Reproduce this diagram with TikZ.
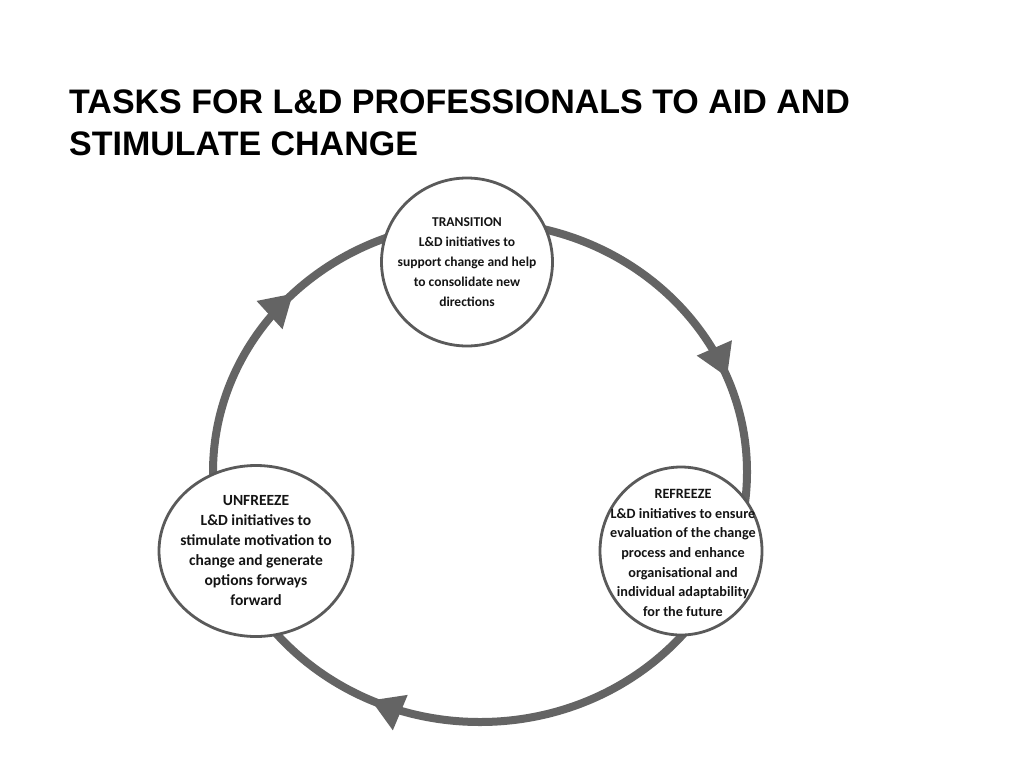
\documentclass[tikz,border=0pt]{standalone}
\usepackage{fontspec}
\setmainfont{Liberation Sans}
\newfontfamily\nodefont{Carlito}
\usetikzlibrary{shapes.geometric,arrows.meta,decorations.markings}
\definecolor{ringgray}{HTML}{646464}
\definecolor{edgegray}{HTML}{5A5A5A}
\definecolor{txtgray}{HTML}{141414}
\tikzset{
  ring/.style={draw=ringgray, line width=8pt,
    decoration={markings,
      mark=at position 0.19 with {\arrow[ringgray]{Triangle[length=32pt,width=36pt]}},
      mark=at position 0.569 with {\arrow[ringgray]{Triangle[length=32pt,width=36pt]}},
      mark=at position 0.874 with {\arrow[ringgray]{Triangle[length=32pt,width=36pt]}}},
    postaction={decorate}},
  stage/.style={ellipse, draw=edgegray, line width=2.8pt, fill=white, inner sep=0pt},
  stagetext/.style={align=center, text=txtgray, inner sep=0pt,
    font=\nodefont\bfseries\fontsize{13.5pt}{20pt}\selectfont},
  titletext/.style={align=left, anchor=north west, inner sep=0pt,
    font=\bfseries\fontsize{34pt}{42pt}\selectfont}
}
\begin{document}
\begin{tikzpicture}[x=1pt,y=-1pt]
\useasboundingbox (0,0) rectangle (1024,768);
\fill[white] (0,0) rectangle (1024,768);

\node[titletext] (title) at (69,90) {TASKS FOR L\&D PROFESSIONALS TO AID AND\\STIMULATE CHANGE};

\coordinate (c) at (480,472);
\draw[ring] (c) ++(-90:267 and 250)
  arc[start angle=-90, end angle=270, x radius=267, y radius=250];

\node[stage, minimum width=171pt, minimum height=168pt] (transition) at (467,262) {};
\node[stage, minimum width=194pt, minimum height=171pt] (unfreeze) at (256,551) {};
\node[stage, minimum width=162pt, minimum height=168pt] (refreeze) at (681,551) {};

\node[stagetext] (transitiontext) at (transition) {TRANSITION\\L\&D initiatives to\\support change and help\\to consolidate new\\directions};
\node[stagetext, font=\nodefont\bfseries\fontsize{15.5pt}{20pt}\selectfont] (unfreezetext) at (unfreeze) {UNFREEZE\\L\&D initiatives to\\stimulate motivation to\\change and generate\\options forways\\forward};
\node[stagetext, font=\nodefont\bfseries\fontsize{14.2pt}{19.6pt}\selectfont] (refreezetext) at ([xshift=2pt,yshift=-2pt]refreeze.center) {REFREEZE\\L\&D initiatives to ensure\\evaluation of the change\\process and enhance\\organisational and\\individual adaptability\\for the future};
\end{tikzpicture}
\end{document}
